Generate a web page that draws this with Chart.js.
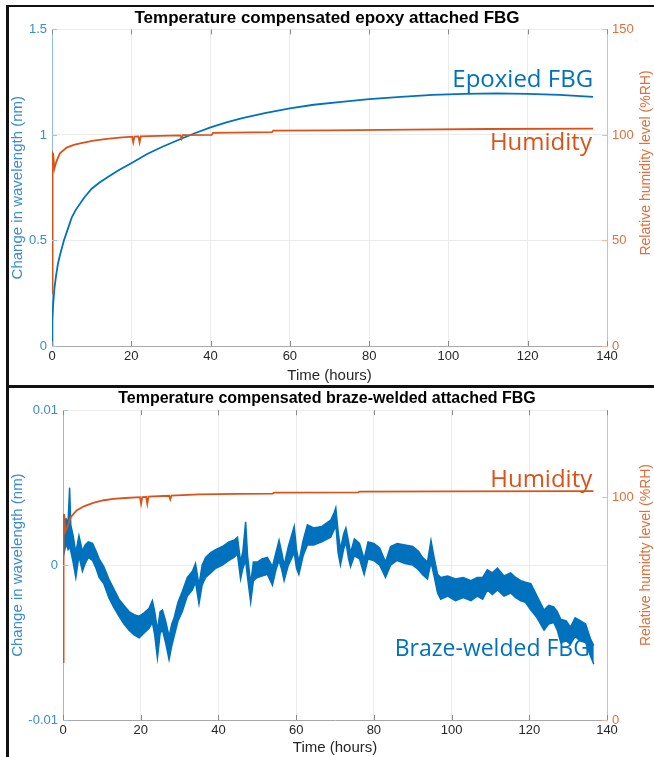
<!DOCTYPE html>
<html><head><meta charset="utf-8">
<script src="https://cdn.jsdelivr.net/npm/chart.js@4/dist/chart.umd.min.js"></script>
<style>
html,body{margin:0;padding:0;background:#fff;}
body{width:654px;height:757px;position:relative;overflow:hidden;}
canvas{position:absolute;left:0;}
#c1{top:7px;}
#c2{top:388px;}
.frame{position:absolute;background:#111;z-index:5;}
</style></head><body>
<canvas id="c1" width="654" height="378"></canvas>
<canvas id="c2" width="654" height="369"></canvas>
<div class="frame" style="left:6px;top:5px;width:648px;height:2px"></div>
<div class="frame" style="left:6px;top:5px;width:3px;height:752px"></div>
<div class="frame" style="left:6px;top:385px;width:648px;height:3px"></div>
<script>
// ---------- Top chart data (epoxy attached FBG) ----------
const xTicks = [0, 20, 40, 60, 80, 100, 120, 140];
const epoxyTime  = [0, 0.1, 0.3, 0.6, 1, 1.5, 2, 3, 4, 5, 6, 8, 10, 12, 14, 17, 20, 24, 28, 32, 36, 40, 44, 48, 54, 60, 66, 73, 80, 88, 96, 104, 112, 120, 128, 136.5];
const epoxyShift = [0, 0.12, 0.2, 0.27, 0.33, 0.39, 0.43, 0.5, 0.555, 0.61, 0.645, 0.7, 0.745, 0.775, 0.80, 0.835, 0.866, 0.91, 0.945, 0.977, 1.008, 1.036, 1.06, 1.08, 1.105, 1.126, 1.143, 1.157, 1.17, 1.18, 1.19, 1.195, 1.197, 1.195, 1.19, 1.18];
const humTime1 = [0, 0.15, 0.3, 0.6, 1.1, 2, 3.7, 5.5, 7.1, 10.5, 13.9, 17, 20.2, 20.5, 20.8, 21.8, 22.1, 22.4, 27, 32.4, 32.7, 33, 40.3, 40.6, 55.5, 55.8, 70, 90, 110, 136.5];
const humRH1   = [25, 91.5, 91, 84, 87.4, 91.3, 94, 95.3, 96, 97.3, 98.1, 98.7, 99.2, 96.5, 99.2, 99.3, 96.5, 99.3, 99.6, 99.8, 98.3, 99.9, 100, 101, 101.3, 102, 102.2, 102.5, 102.8, 103];
const leftTicks1 = [0, 0.5, 1, 1.5];
const rightTicks1 = [0, 50, 100, 150];

// ---------- Bottom chart data (braze-welded FBG) ----------
const brazeTime = [0.0, 0.3, 0.8, 1.3, 1.7, 2.0, 2.6, 3.3, 4.1, 5.0, 5.7, 6.5, 7.6, 8.5, 9.3, 10.5, 11.8, 13.0, 14.4, 15.7, 17.0, 18.3, 19.6, 20.8, 22.1, 23.0, 23.6, 24.3, 25.0, 25.6, 26.4, 27.3, 28.0, 28.6, 29.6, 30.7, 32.0, 33.3, 34.1, 35.0, 35.8, 36.7, 38.0, 39.3, 41.0, 42.7, 44.0, 44.9, 45.7, 46.3, 47.0, 47.5, 48.3, 49.0, 50.0, 51.2, 52.6, 53.9, 54.8, 55.6, 56.3, 56.9, 58.0, 59.5, 60.1, 60.7, 61.8, 62.9, 64.5, 66.6, 68.9, 69.8, 70.2, 70.8, 71.4, 72.2, 72.8, 73.5, 74.0, 75.0, 76.3, 77.5, 78.5, 80.0, 81.5, 83.0, 84.3, 86.0, 88.0, 90.0, 91.5, 92.5, 93.8, 94.7, 95.5, 96.4, 97.2, 99.0, 101.0, 103.0, 105.0, 106.6, 108.0, 109.2, 110.5, 111.8, 113.5, 115.2, 116.5, 117.8, 119.0, 120.4, 122.0, 123.8, 125.0, 126.3, 127.2, 128.1, 129.5, 130.6, 131.8, 133.2, 134.5, 135.8, 136.6];
const brazeLow  = [0.0012, 0.0008, 0.0014, 0.0010, 0.0012, 0.0009, 0.0002, -0.0008, 0.0006, -0.0004, 0.0001, 0.0005, 0.0003, -0.0002, -0.0008, -0.0012, -0.0021, -0.0027, -0.0033, -0.0038, -0.0042, -0.0045, -0.0047, -0.0044, -0.0041, -0.0037, -0.0045, -0.0060, -0.0044, -0.0042, -0.0050, -0.0061, -0.0052, -0.0046, -0.0036, -0.0030, -0.0020, -0.0016, -0.0011, -0.0025, -0.0013, -0.0008, -0.0005, -0.0002, 0.0000, 0.0003, 0.0005, 0.0007, -0.0009, -0.0002, 0.0003, -0.0008, -0.0024, -0.0010, -0.0008, -0.0007, -0.0006, -0.0013, -0.0003, 0.0003, -0.0003, -0.0010, 0.0000, 0.0008, -0.0002, -0.0006, 0.0006, 0.0013, 0.0013, 0.0015, 0.0018, 0.0023, 0.0026, 0.0008, 0.0000, 0.0010, 0.0015, 0.0004, -0.0001, 0.0006, 0.0004, -0.0006, 0.0004, 0.0003, 0.0000, -0.0008, 0.0000, 0.0003, 0.0001, 0.0000, -0.0003, -0.0006, -0.0009, 0.0002, -0.0007, -0.0018, -0.0022, -0.0020, -0.0023, -0.0021, -0.0023, -0.0020, -0.0022, -0.0016, -0.0019, -0.0016, -0.0020, -0.0018, -0.0021, -0.0023, -0.0024, -0.0029, -0.0034, -0.0042, -0.0038, -0.0037, -0.0042, -0.0050, -0.0049, -0.0051, -0.0046, -0.0049, -0.0050, -0.0059, -0.0064];
const brazeHigh = [0.0030, 0.0029, 0.0030, 0.0027, 0.0050, 0.0026, 0.0019, 0.0008, 0.0019, 0.0009, 0.0013, 0.0015, 0.0014, 0.0009, 0.0004, -0.0001, -0.0009, -0.0015, -0.0022, -0.0026, -0.0030, -0.0032, -0.0033, -0.0031, -0.0028, -0.0023, -0.0030, -0.0042, -0.0030, -0.0029, -0.0036, -0.0046, -0.0038, -0.0034, -0.0024, -0.0017, -0.0008, -0.0004, 0.0001, -0.0013, 0.0000, 0.0005, 0.0008, 0.0010, 0.0012, 0.0015, 0.0016, 0.0018, 0.0002, 0.0009, 0.0028, 0.0006, -0.0012, 0.0002, 0.0002, 0.0004, 0.0005, -0.0001, 0.0008, 0.0016, 0.0008, 0.0000, 0.0012, 0.0025, 0.0010, 0.0002, 0.0016, 0.0026, 0.0024, 0.0025, 0.0029, 0.0034, 0.0037, 0.0022, 0.0010, 0.0020, 0.0024, 0.0015, 0.0008, 0.0017, 0.0014, 0.0004, 0.0015, 0.0014, 0.0011, 0.0002, 0.0012, 0.0014, 0.0013, 0.0012, 0.0009, 0.0005, 0.0002, 0.0016, 0.0005, -0.0006, -0.0008, -0.0007, -0.0009, -0.0008, -0.0010, -0.0008, -0.0008, -0.0003, -0.0005, -0.0002, -0.0007, -0.0005, -0.0008, -0.0010, -0.0011, -0.0012, -0.0020, -0.0029, -0.0026, -0.0027, -0.0030, -0.0035, -0.0036, -0.0040, -0.0034, -0.0036, -0.0038, -0.0048, -0.0052];
const humTime2 = [0, 0.15, 0.3, 0.6, 1.1, 2, 3.5, 5.5, 8, 10.5, 13, 16, 19.8, 20.1, 20.4, 21.4, 21.7, 22, 27.3, 27.6, 27.9, 35, 45, 54, 54.3, 76, 76.3, 100, 136.5];
const humRH2   = [26, 92, 92, 84.5, 86.5, 91, 94, 96, 97.5, 98.6, 99.2, 99.6, 100, 97, 100, 100.1, 97, 100.2, 100.6, 99, 100.7, 101.2, 101.5, 101.6, 102, 102.1, 102.5, 102.6, 102.7];
const leftTicks2 = [-0.01, 0, 0.01];
const rightTicks2 = [0, 100];

// ---------- styling ----------
const BLUE = '#0072BD', ORANGE = '#D95319';
const BLUE_LT = '#3a8dcf', ORANGE_LT = '#e0703e';
const FONT = "'Liberation Sans', Arial, Helvetica, sans-serif";

const pts = (xs, ys) => xs.map((x, i) => ({x: x, y: ys[i]}));

const extras = {
  id: 'extras',
  afterDraw(chart, args, o) {
    const ctx = chart.ctx, a = chart.chartArea, xs = chart.scales.x;
    ctx.save();
    ctx.lineWidth = 1;
    // side borders
    ctx.strokeStyle = '#f2b49a';
    ctx.beginPath(); ctx.moveTo(Math.round(a.right) + 0.5, a.top); ctx.lineTo(Math.round(a.right) + 0.5, a.bottom); ctx.stroke();
    // inward tick marks
    ctx.strokeStyle = '#8a8a8a';
    xs.ticks.forEach(t => {
      const px = Math.round(xs.getPixelForValue(t.value)) + 0.5;
      ctx.beginPath(); ctx.moveTo(px, a.bottom); ctx.lineTo(px, a.bottom - 5);
      ctx.moveTo(px, a.top); ctx.lineTo(px, a.top + 5); ctx.stroke();
    });
    const yl = chart.scales.yL, yr = chart.scales.yR;
    ctx.strokeStyle = '#9cc4e4';
    yl.ticks.forEach(t => {
      const py = Math.round(yl.getPixelForValue(t.value)) + 0.5;
      ctx.beginPath(); ctx.moveTo(a.left, py); ctx.lineTo(a.left + 5, py); ctx.stroke();
    });
    ctx.strokeStyle = '#f1b9a0';
    yr.ticks.forEach(t => {
      const py = Math.round(yr.getPixelForValue(t.value)) + 0.5;
      ctx.beginPath(); ctx.moveTo(a.right, py); ctx.lineTo(a.right - 5, py); ctx.stroke();
    });
    // right axis title, reading bottom-to-top
    ctx.translate(o.rtX, o.rtY);
    ctx.rotate(-Math.PI / 2);
    ctx.font = '14px ' + FONT;
    ctx.fillStyle = ORANGE_LT;
    ctx.textAlign = 'center'; ctx.textBaseline = 'middle';
    ctx.fillText(o.rightTitle, 0, 0);
    ctx.restore();
    // in-plot labels
    (o.labels || []).forEach(l => {
      const ys = chart.scales[l.axis];
      ctx.save();
      ctx.font = l.size + "px 'Open Sans', sans-serif";
      ctx.fillStyle = l.color;
      ctx.textAlign = 'right'; ctx.textBaseline = 'alphabetic';
      ctx.fillText(l.text, xs.getPixelForValue(l.x), ys.getPixelForValue(l.y));
      ctx.restore();
    });
  }
};

const fmt = v => String(v);

function makeChart(id, cfg) {
  return new Chart(document.getElementById(id), {
    type: 'line',
    data: {datasets: cfg.datasets},
    options: {
      responsive: false, animation: false, devicePixelRatio: 1,
      layout: {padding: 0},
      elements: {point: {radius: 0}, line: {tension: 0}},
      plugins: {
        legend: {display: false}, tooltip: {enabled: false},
        title: {display: true, text: cfg.title, color: '#000',
                font: {family: FONT, size: cfg.titleSize, weight: 'bold'}, padding: {top: cfg.titleTop, bottom: cfg.titleBottom}},
        extras: cfg.extras
      },
      scales: {
        x: {
          type: 'linear', min: 0, max: 140,
          afterBuildTicks: s => { s.ticks = xTicks.map(v => ({value: v})); },
          afterFit: s => { s.height = cfg.xHeight; },
          ticks: {color: '#262626', font: {family: FONT, size: 13}, padding: 3, maxRotation: 0, callback: fmt},
          grid: {color: '#ebebeb', drawTicks: false},
          border: {color: '#a8a8a8', width: 1},
          title: {display: true, text: 'Time (hours)', color: '#262626', font: {family: FONT, size: 15}, padding: {top: 0, bottom: 0}}
        },
        yL: {
          type: 'linear', position: 'left', min: cfg.yL[0], max: cfg.yL[1],
          afterBuildTicks: s => { s.ticks = cfg.leftTicks.map(v => ({value: v})); },
          afterFit: s => { s.width = cfg.leftWidth; },
          ticks: {color: BLUE_LT, font: {family: FONT, size: 13}, padding: 5, callback: fmt},
          grid: {color: '#ebebeb', drawTicks: false},
          border: {color: '#8fbde2', width: 1},
          title: {display: true, text: 'Change in wavelength (nm)', color: BLUE_LT, font: {family: FONT, size: 15}, padding: {top: 9, bottom: 0}}
        },
        yR: {
          type: 'linear', position: 'right', min: cfg.yR[0], max: cfg.yR[1],
          afterBuildTicks: s => { s.ticks = cfg.rightTicks.map(v => ({value: v})); },
          afterFit: s => { s.width = 47; },
          ticks: {color: ORANGE_LT, font: {family: FONT, size: 13}, padding: 5, callback: fmt},
          grid: {drawOnChartArea: false, drawTicks: false},
          border: {color: '#f2b49a', width: 1}
        }
      }
    },
    plugins: [extras]
  });
}

makeChart('c1', {
  title: 'Temperature compensated epoxy attached FBG',
  titleSize: 17, titleTop: 1, titleBottom: 1,
  xHeight: 39, leftWidth: 52,
  yL: [0, 1.5], yR: [0, 150],
  leftTicks: leftTicks1, rightTicks: rightTicks1,
  datasets: [
    {label: 'Humidity', yAxisID: 'yR', data: pts(humTime1, humRH1), borderColor: ORANGE, borderWidth: 1.8, fill: false},
    {label: 'Epoxied FBG', yAxisID: 'yL', data: pts(epoxyTime, epoxyShift), borderColor: BLUE, borderWidth: 1.8, fill: false}
  ],
  extras: {
    rightTitle: 'Relative humidity level (%RH)', rtX: 646, rtY: 156,
    labels: [
      {text: 'Epoxied FBG', axis: 'yL', x: 136.5, y: 1.225, color: BLUE, size: 24},
      {text: 'Humidity', axis: 'yR', x: 136.2, y: 93, color: ORANGE, size: 24}
    ]
  }
});

makeChart('c2', {
  title: 'Temperature compensated braze-welded attached FBG',
  titleSize: 16, titleTop: 1, titleBottom: 2,
  xHeight: 37, leftWidth: 63,
  yL: [-0.01, 0.01], yR: [0, 139],
  leftTicks: leftTicks2, rightTicks: rightTicks2,
  datasets: [
    {label: 'Humidity', yAxisID: 'yR', data: pts(humTime2, humRH2), borderColor: ORANGE, borderWidth: 1.8, fill: false},
    {label: 'Braze-welded FBG (upper)', yAxisID: 'yL', data: pts(brazeTime, brazeHigh), borderColor: BLUE, borderWidth: 1.5, backgroundColor: BLUE, fill: '+1'},
    {label: 'Braze-welded FBG (lower)', yAxisID: 'yL', data: pts(brazeTime, brazeLow), borderColor: BLUE, borderWidth: 1.5, fill: false}
  ],
  extras: {
    rightTitle: 'Relative humidty level (%RH)', rtX: 646, rtY: 167,
    labels: [
      {text: 'Humidity', axis: 'yR', x: 136.2, y: 104.5, color: ORANGE, size: 24},
      {text: 'Braze-welded FBG', axis: 'yL', x: 135.6, y: -0.00587, color: BLUE, size: 23}
    ]
  }
});
</script>
</body></html>
